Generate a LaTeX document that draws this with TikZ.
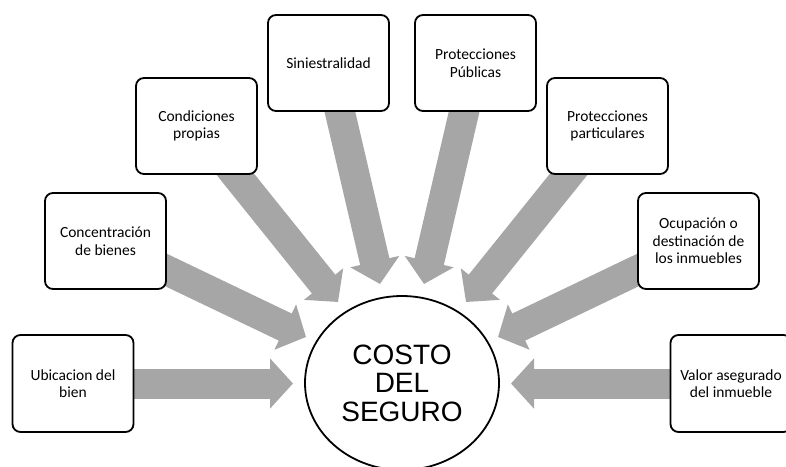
\documentclass[tikz,border=0pt]{standalone}
\usepackage{fontspec}
\setmainfont{Carlito}
\newfontfamily\arialf{Liberation Sans}
\usetikzlibrary{shapes.geometric,arrows.meta,backgrounds}
\definecolor{arrowgray}{HTML}{A6A6A6}
\begin{document}
\begin{tikzpicture}[x=1pt,y=-1pt,
  factor/.style={draw, line width=1.8pt, rounded corners=8pt, fill=white,
    minimum width=121pt, minimum height=96pt, align=center, inner sep=2pt,
    font=\fontsize{15.5}{17.5}\selectfont},
  hub/.style={draw, ellipse, line width=1.8pt, minimum width=194pt, minimum height=174pt,
    inner sep=0pt, align=center, font=\arialf\fontsize{28}{28.5}\selectfont},
  bigarrow/.style={draw=arrowgray, line width=30pt, -{Triangle[width=49pt,length=23pt]}}
]
\useasboundingbox (0,0) rectangle (786,466);
\clip (0,0) rectangle (786,466);

\node[hub] (cost) at (402,383) {COSTO\\DEL\\SEGURO};

\node[factor, minimum height=97pt] (b1) at (73,383.5) {Ubicacion del\\bien};
\node[factor] (b2) at (105.5,241) {Concentración\\de bienes};
\node[factor] (b3) at (196.5,126) {Condiciones\\propias};
\node[factor] (b4) at (328.5,63) {Siniestralidad};
\node[factor] (b5) at (475.5,63) {Protecciones\\Públicas};
\node[factor] (b6) at (607.5,126) {Protecciones\\particulares};
\node[factor] (b7) at (698.5,241) {Ocupación o\\destinación de\\los inmuebles};
\node[factor, minimum height=97pt] (b8) at (731,383.5) {Valor asegurado\\del inmueble};

\coordinate (t1) at (293,383.5);
\coordinate (t2) at (306,337);
\coordinate (t3) at (338,302);
\coordinate (t4) at (380,284);
\coordinate (t5) at (424,284);
\coordinate (t6) at (466,302);
\coordinate (t7) at (498,337);
\coordinate (t8) at (511,383.5);

\begin{pgfonlayer}{background}
\draw[bigarrow] (b1.center) -- (t1);
\draw[bigarrow] (b2.center) -- (t2);
\draw[bigarrow] (b3.center) -- (t3);
\draw[bigarrow] (b4.center) -- (t4);
\draw[bigarrow] (b5.center) -- (t5);
\draw[bigarrow] (b6.center) -- (t6);
\draw[bigarrow] (b7.center) -- (t7);
\draw[bigarrow] (b8.center) -- (t8);
\end{pgfonlayer}
\end{tikzpicture}
\end{document}
